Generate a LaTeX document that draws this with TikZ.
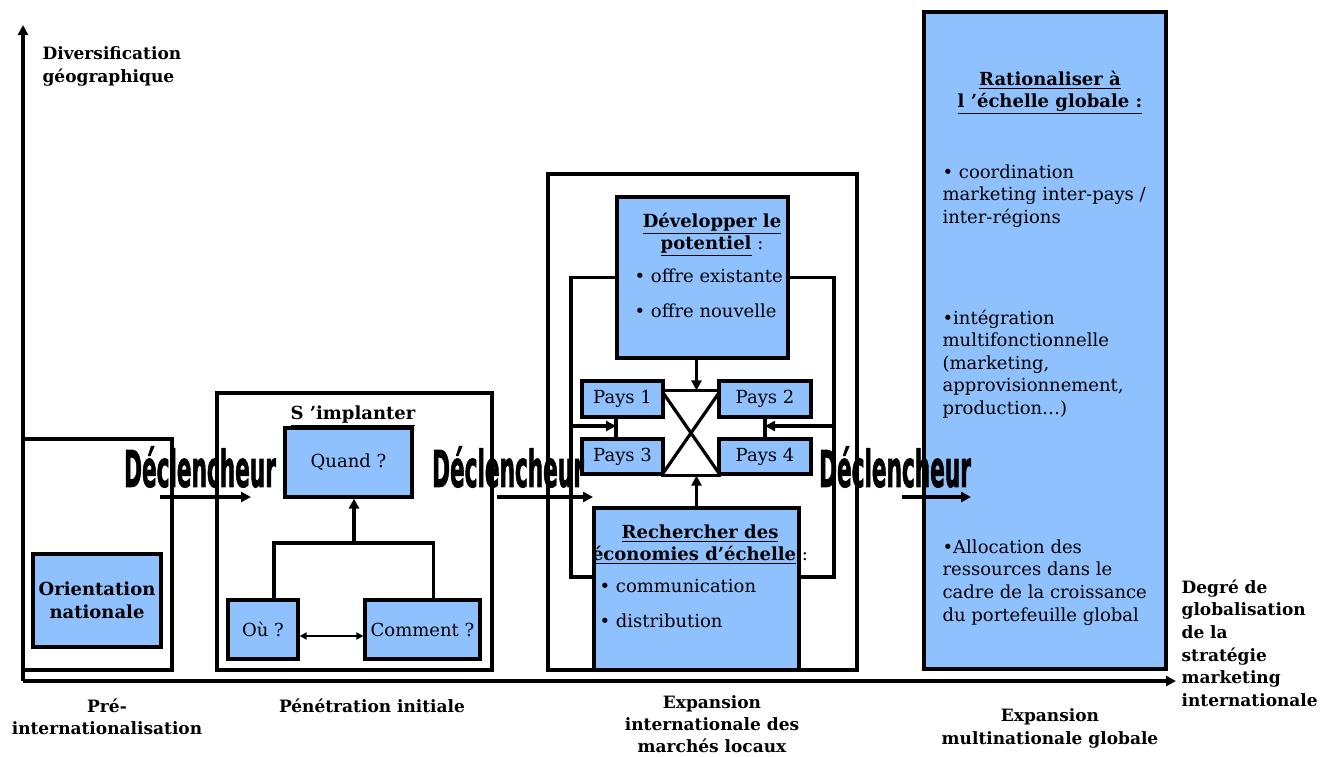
\documentclass[tikz,border=0pt]{standalone}
\usepackage{fontspec}
\setmainfont{DejaVu Serif}
\setsansfont{DejaVu Sans}
\newfontfamily\trigfont{DejaVu Sans}[BoldFeatures={FakeBold=2}]
\usetikzlibrary{arrows.meta}
\definecolor{boxblue}{RGB}{143,193,255}

\begin{document}
\begin{tikzpicture}[x=0.5pt,y=-0.5pt,line width=1.6pt,
		>={Triangle[length=5pt,width=5pt]}]
		\tikzstyle{frame}=[draw,rectangle,inner sep=0pt]
		\tikzstyle{bluebox}=[draw,fill=boxblue,rectangle,inner sep=0pt,font=\fontsize{9}{11}\selectfont]
		\tikzstyle{heading}=[inner sep=0pt,align=center,font=\fontsize{9}{11}\selectfont\bfseries]
		\tikzstyle{body}=[inner sep=0pt,align=left,font=\fontsize{9}{11.3}\selectfont]
		\tikzstyle{axislabel}=[inner sep=0pt,font=\fontsize{8.5}{11.3}\selectfont\bfseries]
		\tikzstyle{trigger}=[inner sep=0pt,font=\fontsize{23}{23}\selectfont\trigfont\bfseries]
		\useasboundingbox (0,0) rectangle (1336,756);
		% axes
		\coordinate (origin) at (23,681);
		\coordinate (ytop) at (23,25);
		\coordinate (xend) at (1176,681);
		\draw[->] (origin) -- (ytop);
		\draw[->] (origin) -- (xend);
		\node[axislabel,anchor=north west,align=left] (ylab) at (41,45) {Diversification\\géographique};
		\node[axislabel,anchor=north west,align=left] (xlab) at (1180,578) {Degré de\\globalisation\\de la\\stratégie\\marketing\\internationale};
		% phases
		\node[frame,minimum width=74.5pt,minimum height=115.5pt] (pre) at (97.5,554.5) {};
		\node[frame,minimum width=137.5pt,minimum height=138.5pt] (pen) at (354.5,531.5) {};
		\node[frame,minimum width=154.5pt,minimum height=248pt] (exp) at (702.5,422) {};
		\node[bluebox,minimum width=121pt,minimum height=328.5pt] (glob) at (1045,340.5) {};
		\node[axislabel,anchor=north,align=center] (prelab) at (107,697) {Pré-\\internationalisation};
		\node[axislabel,anchor=north,align=center] (penlab) at (372,697) {Pénétration initiale};
		\node[axislabel,anchor=north,align=center,font=\fontsize{8.5}{11}\selectfont\bfseries] (explab) at (712,694) {Expansion\\internationale des\\marchés locaux};
		\node[axislabel,anchor=north,align=center] (globlab) at (1050,707) {Expansion\\multinationale globale};
		% pre-internationalisation
		\node[bluebox,minimum width=64pt,minimum height=46.5pt,align=center,font=\fontsize{9}{11.3}\selectfont\bfseries] (orient) at (97,600.5) {Orientation\\nationale};
		% penetration
		\node[heading,anchor=north] (impl) at (353,404) {\underline{S ’implanter}};
		\node[bluebox,minimum width=63.5pt,minimum height=34.5pt] (quand) at (348.5,462.5) {Quand ?};
		\node[bluebox,minimum width=35pt,minimum height=29.5pt] (ou) at (263,629.5) {Où ?};
		\node[bluebox,minimum width=57.5pt,minimum height=29.5pt] (comment) at (422.5,629.5) {Comment ?};
		\coordinate (join) at (354,543);
		\draw ([xshift=5.5pt]ou.north) |- (join) -| ([xshift=5.5pt]comment.north);
		\draw[->] (join) -- (join |- quand.south);
		\draw[{Triangle[length=3.5pt,width=3.5pt]}-{Triangle[length=3.5pt,width=3.5pt]},line width=0.9pt] ([yshift=-3.25pt]ou.east) -- ([yshift=-3.25pt]comment.west);
		% expansion des marches locaux
		\node[bluebox,minimum width=85.5pt,minimum height=80.5pt] (dev) at (702.5,277.5) {};
		\node[heading,anchor=north] (devtitle) at (712,211) {\underline{Développer le}\\\underline{potentiel}\mdseries\ :};
		\node[body,anchor=north west,font=\fontsize{9}{17.5}\selectfont] (devlist) at (633,267) {• offre existante\\• offre nouvelle};
		\node[bluebox,minimum width=102.5pt,minimum height=81pt] (rech) at (696.5,589) {};
		\node[heading,anchor=north] (rechtitle) at (700,523) {\underline{Rechercher des}\\\underline{économies d’échelle}\mdseries\ :};
		\node[body,anchor=north west,font=\fontsize{9}{17.5}\selectfont] (rechlist) at (598,578) {• communication\\• distribution};
		\node[inner sep=0pt,minimum width=28pt,minimum height=41pt] (cross) at (691,433) {};
		\draw (cross.north west) -- (cross.north east);
		\draw (cross.south west) -- (cross.south east);
		\draw (cross.north west) -- (cross.south east);
		\draw (cross.north east) -- (cross.south west);
		\node[bluebox,minimum width=40.5pt,minimum height=18pt] (pays1) at (622.5,399) {Pays 1};
		\node[bluebox,minimum width=46pt,minimum height=18pt] (pays2) at (765,399) {Pays 2};
		\node[bluebox,minimum width=40.5pt,minimum height=17.5pt] (pays3) at (622.5,456.5) {Pays 3};
		\node[bluebox,minimum width=46pt,minimum height=17.5pt] (pays4) at (765,456.5) {Pays 4};
		\draw[->] (dev.south -| rech.north) -- (rech.north |- cross.north);
		\draw[->] (rech.north) -- (rech.north |- cross.south);
		\coordinate (lloop) at (571,577);
		\coordinate (rloop) at (834,577);
		\draw (dev.west) -| (lloop) -- (lloop -| rech.west);
		\draw (dev.east) -| (rloop) -- (rloop -| rech.east);
		\coordinate (c13) at (616,426);
		\draw (c13 |- pays1.south) -- (c13 |- pays3.north);
		\draw (pays2.south) -- (pays4.north);
		\draw[->] (c13 -| lloop) -- (c13);
		\draw[->] (c13 -| rloop) -- (c13 -| pays2.south);
		% globale
		\node[heading,anchor=north] (globtitle) at (1050,69) {\underline{Rationaliser à}\\\underline{l ’échelle globale :}};
		\node[body,anchor=north west] (coord) at (941,163) {• coordination\\marketing inter-pays /\\inter-régions};
		\node[body,anchor=north west] (integr) at (941,308) {•intégration\\multifonctionnelle\\(marketing,\\approvisionnement,\\production…)};
		\node[body,anchor=north west] (alloc) at (941,538) {•Allocation des\\ressources dans le\\cadre de la croissance\\du portefeuille global};
		% declencheurs
		\node[trigger] (decl1) at (200,467) {\scalebox{0.47}[1.1]{Déclencheur}};
		\node[trigger] (decl2) at (508,467) {\scalebox{0.47}[1.1]{Déclencheur}};
		\node[trigger] (decl3) at (895,467) {\scalebox{0.47}[1.1]{Déclencheur}};
		\coordinate (t1s) at (160,497); \coordinate (t1e) at (251,497);
		\coordinate (t2s) at (497,497); \coordinate (t2e) at (593,497);
		\coordinate (t3s) at (902,497); \coordinate (t3e) at (971,497);
		\draw[->] (t1s) -- (t1e);
		\draw[->] (t2s) -- (t2e);
		\draw[->] (t3s) -- (t3e);
	\end{tikzpicture}
\end{document}
